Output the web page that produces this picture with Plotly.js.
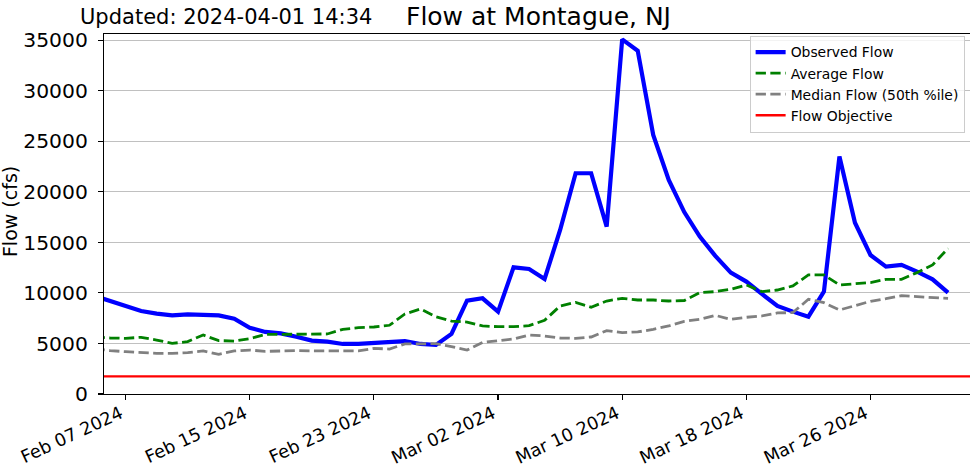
<!DOCTYPE html>
<html>
<head>
<meta charset="utf-8">
<script src="https://cdn.plot.ly/plotly-3.0.1.min.js"></script>
<style>
html, body { margin: 0; padding: 0; overflow: hidden; background: #fff; }
#chart { width: 975px; height: 468px; }
</style>
</head>
<body>
<div id="chart"></div>
<script>
const dates = [
  '2024-02-05','2024-02-06','2024-02-07','2024-02-08','2024-02-09','2024-02-10','2024-02-11','2024-02-12',
  '2024-02-13','2024-02-14','2024-02-15','2024-02-16','2024-02-17','2024-02-18','2024-02-19','2024-02-20',
  '2024-02-21','2024-02-22','2024-02-23','2024-02-24','2024-02-25','2024-02-26','2024-02-27','2024-02-28',
  '2024-02-29','2024-03-01','2024-03-02','2024-03-03','2024-03-04','2024-03-05','2024-03-06','2024-03-07',
  '2024-03-08','2024-03-09','2024-03-10','2024-03-11','2024-03-12','2024-03-13','2024-03-14','2024-03-15',
  '2024-03-16','2024-03-17','2024-03-18','2024-03-19','2024-03-20','2024-03-21','2024-03-22','2024-03-23',
  '2024-03-24','2024-03-25','2024-03-26','2024-03-27','2024-03-28','2024-03-29','2024-03-30','2024-03-31'
];

const observedFlow = [
  9700, 9180, 8640, 8210, 7950, 7780, 7880, 7880,
  7780, 7450, 6560, 6140, 6000, 5670, 5280, 5180,
  4950, 4950, 5080, 5150, 5240, 4950, 4850, 5940,
  9240, 9470, 8150, 12530, 12370, 11380, 16230, 21840,
  21840, 16560, 35090, 33970, 25630, 21180, 18000, 15570,
  13660, 12010, 11120, 9900, 8710, 8150, 7650, 10130,
  23490, 16950, 13750, 12600, 12770, 12110, 11350, 10030
];

const averageFlow = [
  5650, 5540, 5510, 5610, 5340, 5010, 5180, 5840,
  5280, 5240, 5480, 5900, 5900, 5900, 5900, 5940,
  6400, 6560, 6630, 6800, 7920, 8410, 7650, 7220,
  7120, 6730, 6660, 6660, 6760, 7290, 8710, 9070,
  8580, 9200, 9470, 9300, 9300, 9200, 9250, 10030,
  10130, 10360, 10790, 10130, 10290, 10690, 11780, 11780,
  10790, 10890, 11020, 11350, 11350, 12010, 12770, 14410
];

const medianFlow = [
  4500, 4290, 4190, 4090, 4020, 4020, 4090, 4260,
  3930, 4260, 4350, 4220, 4290, 4290, 4260, 4260,
  4260, 4260, 4520, 4450, 4950, 4950, 4980, 4680,
  4350, 5110, 5240, 5440, 5840, 5740, 5540, 5510,
  5640, 6270, 6070, 6140, 6400, 6730, 7190, 7390,
  7780, 7390, 7590, 7720, 8020, 8050, 9370, 9040,
  8310, 8710, 9170, 9430, 9730, 9630, 9570, 9470
];

const objectiveDates = ['2024-02-05 14:34', '2024-04-01 14:34'];
const objectiveFlow = [1750, 1750];

const xTickVals = ['2024-02-07','2024-02-15','2024-02-23','2024-03-02','2024-03-10','2024-03-18','2024-03-26'];
const xTickText = ['Feb 07 2024','Feb 15 2024','Feb 23 2024','Mar 02 2024','Mar 10 2024','Mar 18 2024','Mar 26 2024'];
const yTickVals = [0, 5000, 10000, 15000, 20000, 25000, 30000, 35000];
const yTickText = ['0', '5000', '10000', '15000', '20000', '25000', '30000', '35000'];

const titleText = 'Flow at Montague, NJ';
const updatedText = 'Updated: 2024-04-01 14:34';
const yTitleText = 'Flow (cfs)';

const FONT = 'DejaVu Sans, Verdana, sans-serif';
const dashPat = '10.3px,4.4px';

const traces = [
  { x: dates, y: observedFlow, name: 'Observed Flow', type: 'scatter', mode: 'lines',
    line: { color: '#0000ff', width: 4.2 } },
  { x: dates, y: averageFlow, name: 'Average Flow', type: 'scatter', mode: 'lines',
    line: { color: '#008000', width: 2.8, dash: dashPat } },
  { x: dates, y: medianFlow, name: 'Median Flow (50th %ile)', type: 'scatter', mode: 'lines',
    line: { color: '#808080', width: 2.8, dash: dashPat } },
  { x: objectiveDates, y: objectiveFlow, name: 'Flow Objective', type: 'scatter', mode: 'lines',
    line: { color: '#ff0000', width: 2.3 } }
];

const plotL = 104, plotR = 1.5, plotT = 34, plotB = 74, W = 975, H = 468;
const pw = W - plotL - plotR, ph = H - plotT - plotB;
const px2x = p => (p - plotL) / pw;
const py2y = p => (H - plotB - p) / ph;

const layout = {
  width: W, height: H,
  margin: { l: plotL, r: plotR, t: plotT, b: plotB, pad: 0 },
  paper_bgcolor: '#ffffff', plot_bgcolor: '#ffffff',
  font: { family: FONT, color: '#000000', size: 18 },
  showlegend: true,
  legend: {
    x: px2x(750), y: py2y(35.5), xanchor: 'left', yanchor: 'top',
    bgcolor: 'rgba(255,255,255,0.8)', bordercolor: '#cccccc', borderwidth: 1,
    font: { family: FONT, size: 13.9, color: '#000000' },
    traceorder: 'normal'
  },
  xaxis: {
    type: 'date',
    range: ['2024-02-05 14:34', '2024-04-01 14:34'],
    tickmode: 'array', tickvals: xTickVals, ticktext: xTickText.map(t => t + '\u00a0'),
    tickangle: -25,
    ticks: 'outside', ticklen: 5, tickwidth: 1.1, tickcolor: '#000000',
    ticklabelstandoff: -6,
    showline: true, linecolor: '#000000', linewidth: 1.1, mirror: true,
    showgrid: false, zeroline: false,
    tickfont: { family: FONT, size: 17.7, color: '#000000' }
  },
  yaxis: {
    range: [0, 35620],
    tickmode: 'array', tickvals: yTickVals, ticktext: yTickText,
    ticks: 'outside', ticklen: 5, tickwidth: 1.1, tickcolor: '#000000',
    ticklabelstandoff: 6,
    showline: true, linecolor: '#000000', linewidth: 1.1, mirror: true,
    showgrid: true, gridcolor: '#c0c0c0', gridwidth: 1.1,
    zeroline: false,
    tickfont: { family: FONT, size: 20.3, color: '#000000' }
  },
  annotations: [
    { text: titleText, xref: 'paper', yref: 'paper', x: px2x(539), y: py2y(17),
      xanchor: 'center', yanchor: 'middle', showarrow: false,
      font: { family: FONT, size: 25, color: '#000000' } },
    { text: updatedText, xref: 'paper', yref: 'paper', x: px2x(78), y: py2y(17.5),
      xanchor: 'left', yanchor: 'middle', showarrow: false,
      font: { family: FONT, size: 21, color: '#000000' } },
    { text: yTitleText, xref: 'paper', yref: 'paper', x: px2x(10), y: py2y(212),
      xanchor: 'center', yanchor: 'middle', showarrow: false, textangle: -90,
      font: { family: FONT, size: 19, color: '#000000' } }
  ]
};

Plotly.newPlot('chart', traces, layout, { displayModeBar: false, staticPlot: true });
</script>
</body>
</html>
